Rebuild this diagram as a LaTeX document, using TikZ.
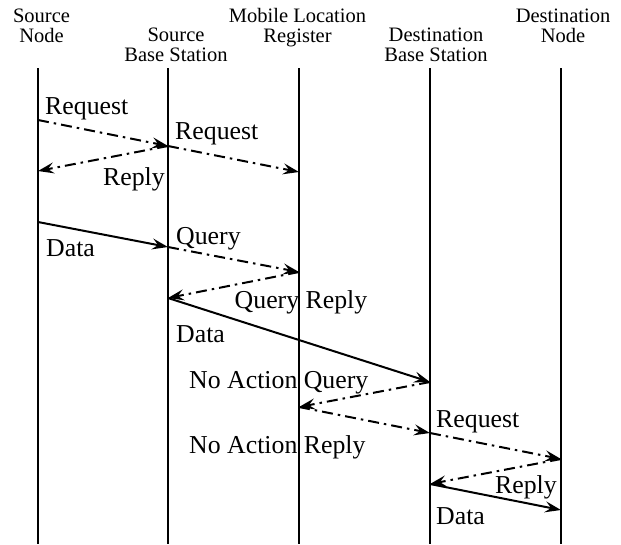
\documentclass[tikz,border=0pt]{standalone}
\usepackage{fontspec}
\setmainfont{Liberation Serif}
\usetikzlibrary{arrows.meta}
\begin{document}
\begin{tikzpicture}[x=1pt,y=-1pt,
 life/.style={line width=2.4pt},
 msg/.style={line width=2pt,-{Stealth[length=16pt,width=11pt,inset=6pt]}},
 dd/.style={msg,dash pattern=on 11pt off 5pt on 2.5pt off 5pt},
 hdr/.style={font=\fontsize{20.5}{20}\selectfont,align=center,inner sep=0pt,anchor=base},
 lbl/.style={font=\fontsize{25.8}{27}\selectfont,inner sep=0pt}]
\useasboundingbox (0,0) rectangle (621,544);
% headers
\node[hdr] (hS)  at (41.5,42) {Source\\Node};
\node[hdr] (hSB) at (176,61) {Source\\Base Station};
\node[hdr] (hM)  at (297.5,42) {Mobile Location\\Register};
\node[hdr] (hDB) at (436,61) {Destination\\Base Station};
\node[hdr] (hD)  at (563,42) {Destination\\Node};
% lifelines
\foreach \n/\x in {S/38,SB/168,M/299,DB/430,D/561}{
  \coordinate (t\n) at (\x,68);
  \coordinate (b\n) at (\x,544);
  \draw[life] (t\n) -- (b\n);
}
% event points
\coordinate (S1) at (38,120);
\coordinate (SB1) at (168,146);
\coordinate (M1) at (299,172);
\coordinate (S2) at (38,171);
\coordinate (S3) at (38,222);
\coordinate (SB3) at (168,247);
\coordinate (M3) at (299,272);
\coordinate (SB4) at (168,298);
\coordinate (DB4) at (430,382);
\coordinate (M5) at (299,407);
\coordinate (DB5) at (430,433);
\coordinate (D5) at (561,459);
\coordinate (DB6) at (430,484);
\coordinate (D6) at (561,510);
% messages
\draw[dd] (S1) -- (SB1);
\draw[dd] (SB1) -- (M1);
\draw[dd] (SB1) -- (S2);
\draw[msg] (S3) -- (SB3);
\draw[dd] (SB3) -- (M3);
\draw[dd] (M3) -- (SB4);
\draw[msg] (SB4) -- (DB4);
\draw[dd] (DB4) -- (M5);
\draw[dd] (M5) -- (DB5);
\draw[dd] (DB5) -- (D5);
\draw[dd] (D5) -- (DB6);
\draw[msg] (DB6) -- (D6);
% labels
\node[lbl,anchor=base west] (l1) at (45,114) {Request};
\node[lbl,anchor=base west] (l2) at (175,139) {Request};
\node[lbl,anchor=base east] (l3) at (165,185) {Reply};
\node[lbl,anchor=base west] (l4) at (46,256) {Data};
\node[lbl,anchor=base west] (l5) at (176,244) {Query};
\node[lbl,anchor=base] (l6) at (301,308) {Query Reply};
\node[lbl,anchor=base west] (l7) at (176,342) {Data};
\node[lbl,anchor=base west] (l8) at (189,388) {No Action Query};
\node[lbl,anchor=base west] (l9) at (189,453) {No Action Reply};
\node[lbl,anchor=base west] (l10) at (436,427) {Request};
\node[lbl,anchor=base east] (l11) at (557,493) {Reply};
\node[lbl,anchor=base west] (l12) at (436,524) {Data};
\end{tikzpicture}
\end{document}
